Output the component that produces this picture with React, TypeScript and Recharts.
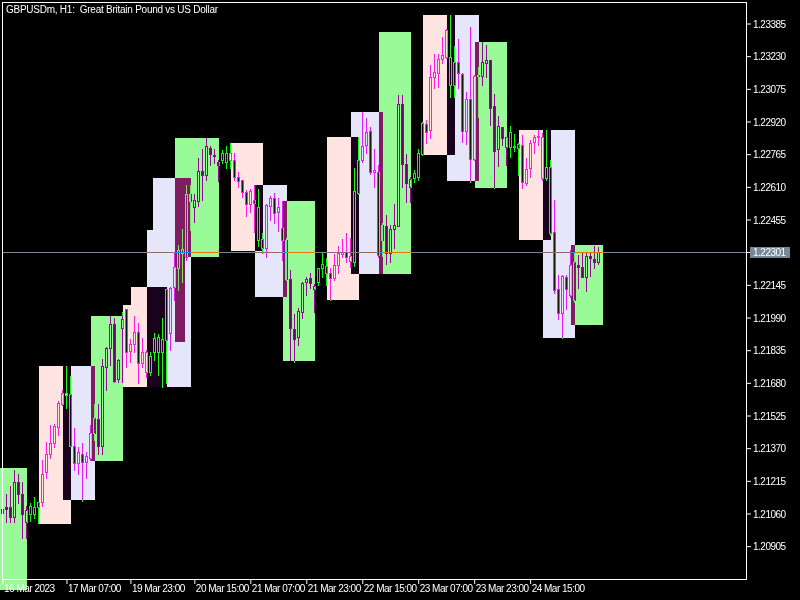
import React from "react";
import { ComposedChart, Bar, XAxis, YAxis, ReferenceArea, ReferenceLine } from "recharts";

// GBPUSDm H1 candles, bar 0 = 16 Mar 2023
const openP = [
  1.21086, 1.21091, 1.21091, 1.21048, 1.21214, 1.21157, 1.21020, 1.21062, 1.21062, 1.21091,
  1.21115, 1.21257, 1.21347, 1.21395, 1.21471, 1.21580, 1.21632, 1.21385, 1.21385, 1.21300,
  1.21347, 1.21305, 1.21328, 1.21442, 1.21509, 1.21385, 1.21756, 1.21846, 1.21960, 1.21699,
  1.21941, 1.22031, 1.21832, 1.21865, 1.21922, 1.21775, 1.21732, 1.21732, 1.21827, 1.21827,
  1.21827, 1.21884, 1.21917, 1.22136, 1.22226, 1.22297, 1.22278, 1.22578, 1.22516, 1.22544,
  1.22687, 1.22668, 1.22796, 1.22763, 1.22730, 1.22739, 1.22730, 1.22772, 1.22739, 1.22658,
  1.22644, 1.22587, 1.22530, 1.22549, 1.22359, 1.22321, 1.22321, 1.22521, 1.22559, 1.22492,
  1.22416, 1.22359, 1.22174, 1.21936, 1.21898, 1.22017, 1.22160, 1.22179, 1.22126, 1.22160,
  1.22226, 1.22202, 1.22202, 1.22179, 1.22240, 1.22293, 1.22302, 1.22259, 1.22255, 1.22582,
  1.22739, 1.22810, 1.22877, 1.22682, 1.22682, 1.22430, 1.22426, 1.22297, 1.22411, 1.22426,
  1.23005, 1.22720, 1.22611, 1.22654, 1.22658, 1.22768, 1.22910, 1.22882, 1.23133, 1.23152,
  1.23219, 1.23228, 1.23095, 1.23095, 1.23205, 1.23148, 1.22877, 1.23029, 1.22744, 1.23138,
  1.23138, 1.23200, 1.23214, 1.22996, 1.22791, 1.22896, 1.22801, 1.22801, 1.22801, 1.22796,
  1.22810, 1.22630, 1.22701, 1.22825, 1.22848, 1.22654, 1.22654, 1.22392, 1.22397, 1.22126,
  1.22012, 1.22183, 1.22098, 1.22074, 1.22240, 1.22231, 1.22183, 1.22283, 1.22269, 1.22255,
];
const highP = [
  1.21096, 1.21157, 1.21191, 1.21271, 1.21252, 1.21214, 1.21100, 1.21110, 1.21143, 1.21115,
  1.21314, 1.21404, 1.21480, 1.21485, 1.21594, 1.21647, 1.21761, 1.21713, 1.21466, 1.21376,
  1.21395, 1.21352, 1.21480, 1.21580, 1.21580, 1.21794, 1.21851, 1.21998, 1.21989, 1.21794,
  1.22017, 1.22031, 1.21889, 1.21998, 1.21965, 1.21894, 1.21837, 1.21827, 1.21917, 1.21913,
  1.21989, 1.22126, 1.22136, 1.22297, 1.22335, 1.22411, 1.22620, 1.22620, 1.22578, 1.22749,
  1.22791, 1.22844, 1.22806, 1.22791, 1.22739, 1.22787, 1.22806, 1.22820, 1.22772, 1.22682,
  1.22644, 1.22597, 1.22601, 1.22620, 1.22601, 1.22392, 1.22530, 1.22568, 1.22582, 1.22559,
  1.22544, 1.22369, 1.22217, 1.22008, 1.22036, 1.22160, 1.22183, 1.22202, 1.22150, 1.22226,
  1.22297, 1.22274, 1.22226, 1.22293, 1.22331, 1.22364, 1.22392, 1.22369, 1.22701, 1.22848,
  1.22967, 1.22939, 1.22896, 1.22791, 1.22715, 1.22440, 1.22478, 1.22430, 1.22530, 1.23048,
  1.23048, 1.22768, 1.22658, 1.22692, 1.22791, 1.22920, 1.22929, 1.23190, 1.23243, 1.23243,
  1.23323, 1.23361, 1.23428, 1.23281, 1.23314, 1.23152, 1.23062, 1.23371, 1.23143, 1.23181,
  1.23300, 1.23285, 1.23214, 1.23053, 1.22948, 1.22896, 1.22848, 1.22901, 1.22863, 1.22820,
  1.22858, 1.22749, 1.22834, 1.22858, 1.22882, 1.22867, 1.22882, 1.22739, 1.22549, 1.22193,
  1.22193, 1.22193, 1.22312, 1.22302, 1.22288, 1.22297, 1.22302, 1.22297, 1.22331, 1.22326,
];
const lowP = [
  1.20920, 1.21020, 1.21020, 1.21020, 1.21110, 1.20948, 1.20948, 1.21029, 1.21043, 1.21015,
  1.21100, 1.21233, 1.21328, 1.21376, 1.21433, 1.21575, 1.21561, 1.21381, 1.21271, 1.21248,
  1.21124, 1.21233, 1.21314, 1.21409, 1.21347, 1.21347, 1.21647, 1.21765, 1.21685, 1.21685,
  1.21685, 1.21756, 1.21780, 1.21827, 1.21680, 1.21756, 1.21708, 1.21718, 1.21789, 1.21718,
  1.21661, 1.21680, 1.21837, 1.22074, 1.22122, 1.22160, 1.22264, 1.22407, 1.22445, 1.22521,
  1.22549, 1.22644, 1.22715, 1.22725, 1.22639, 1.22725, 1.22701, 1.22701, 1.22644, 1.22611,
  1.22563, 1.22473, 1.22492, 1.22397, 1.22331, 1.22297, 1.22278, 1.22454, 1.22440, 1.22402,
  1.22264, 1.22169, 1.21789, 1.21780, 1.21860, 1.21989, 1.22098, 1.22131, 1.22017, 1.22145,
  1.22183, 1.22145, 1.22074, 1.22169, 1.22202, 1.22278, 1.22255, 1.22231, 1.22236, 1.22578,
  1.22730, 1.22772, 1.22673, 1.22611, 1.22278, 1.22283, 1.22245, 1.22255, 1.22321, 1.22426,
  1.22611, 1.22540, 1.22540, 1.22635, 1.22644, 1.22763, 1.22820, 1.22844, 1.23081, 1.23086,
  1.23200, 1.23224, 1.23038, 1.23038, 1.23081, 1.22825, 1.22815, 1.22635, 1.22739, 1.22943,
  1.23095, 1.23133, 1.22905, 1.22606, 1.22711, 1.22810, 1.22715, 1.22753, 1.22782, 1.22668,
  1.22606, 1.22620, 1.22658, 1.22772, 1.22810, 1.22644, 1.22644, 1.22383, 1.22107, 1.21984,
  1.21894, 1.22031, 1.22088, 1.22065, 1.22131, 1.22183, 1.22117, 1.22188, 1.22226, 1.22245,
];
const closeP = [
  1.21067, 1.21086, 1.21048, 1.21214, 1.21157, 1.21062, 1.21077, 1.21100, 1.21091, 1.21115,
  1.21252, 1.21347, 1.21395, 1.21476, 1.21585, 1.21632, 1.21623, 1.21628, 1.21300, 1.21352,
  1.21305, 1.21333, 1.21442, 1.21514, 1.21385, 1.21761, 1.21846, 1.21960, 1.21689, 1.21789,
  1.21984, 1.21827, 1.21865, 1.21922, 1.21775, 1.21827, 1.21827, 1.21808, 1.21894, 1.21898,
  1.21889, 1.22126, 1.22131, 1.22231, 1.22312, 1.22316, 1.22578, 1.22544, 1.22549, 1.22687,
  1.22668, 1.22806, 1.22768, 1.22758, 1.22715, 1.22772, 1.22772, 1.22739, 1.22658, 1.22639,
  1.22587, 1.22530, 1.22592, 1.22535, 1.22516, 1.22364, 1.22525, 1.22559, 1.22487, 1.22516,
  1.22359, 1.22174, 1.21941, 1.21889, 1.22022, 1.22155, 1.22174, 1.22155, 1.22141, 1.22226,
  1.22245, 1.22236, 1.22179, 1.22240, 1.22297, 1.22302, 1.22278, 1.22283, 1.22592, 1.22739,
  1.22806, 1.22872, 1.22682, 1.22692, 1.22288, 1.22359, 1.22297, 1.22411, 1.22430, 1.23005,
  1.22720, 1.22630, 1.22649, 1.22677, 1.22772, 1.22915, 1.22872, 1.23133, 1.23157, 1.23219,
  1.23238, 1.23357, 1.23228, 1.23205, 1.23152, 1.22877, 1.23029, 1.22744, 1.23138, 1.23143,
  1.23205, 1.23214, 1.22986, 1.22782, 1.22901, 1.22844, 1.22848, 1.22872, 1.22806, 1.22815,
  1.22635, 1.22696, 1.22820, 1.22848, 1.22853, 1.22848, 1.22706, 1.22706, 1.22122, 1.22012,
  1.22188, 1.22126, 1.22240, 1.22255, 1.22231, 1.22183, 1.22283, 1.22274, 1.22255, 1.22301,
];

const timeTicks = [0, 16, 32, 48, 62, 76, 90, 104, 118, 132];
const timeLabels = [
  "16 Mar 2023", "17 Mar 07:00", "19 Mar 23:00", "20 Mar 15:00", "21 Mar 07:00",
  "21 Mar 23:00", "22 Mar 15:00", "23 Mar 07:00", "23 Mar 23:00", "24 Mar 15:00",
];
const BID = 1.22301;
const priceTicks = [
  1.20905, 1.2106, 1.21215, 1.2137, 1.21525, 1.2168, 1.21835, 1.2199, 1.22145, BID,
  1.22455, 1.2261, 1.22765, 1.2292, 1.23075, 1.2323, 1.23385,
];

const GREEN = "#98FB98";
const PINK = "#FFE4E1";
const LAV = "#E6E6FA";
const LIME = "#00FF00";
const GRAY = "#778899";

// session boxes (bar index from/to, price low/high)
const boxFrom = [-3, 9, 15, 22, 30, 32, 36, 37.5, 43, 43, 57, 63, 70, 81, 87, 94, 105, 111, 118, 129, 135, 142];
const boxTo = [6, 17, 23, 30, 32, 41, 37.5, 47, 54, 45.5, 65, 71, 78, 89, 95, 102, 113, 119, 126, 137, 143, 150];
const boxLow = [
  1.207, 1.21011, 1.21125, 1.2131, 1.21662, 1.21662, 1.21662, 1.21662, 1.22279, 1.21875, 1.22307,
  1.22089, 1.21785, 1.22075, 1.22198, 1.22198, 1.22763, 1.2264, 1.22606, 1.22359, 1.21894, 1.21956,
];
const boxHigh = [
  1.21277, 1.21761, 1.21761, 1.21999, 1.22051, 1.22136, 1.22407, 1.22654, 1.22844, 1.22279, 1.2282,
  1.22621, 1.22545, 1.22849, 1.22967, 1.23347, 1.23428, 1.23428, 1.233, 1.22882, 1.22882, 1.22336,
];
const boxColor = [
  GREEN, PINK, LAV, GREEN, PINK, PINK, LAV, LAV, GREEN, GREEN, PINK,
  LAV, GREEN, PINK, LAV, GREEN, PINK, LAV, GREEN, PINK, LAV, GREEN,
];

const xor = (a: string, b: string) => {
  const n = parseInt(a.slice(1), 16) ^ parseInt(b.slice(1), 16);
  return "#" + n.toString(16).padStart(6, "0");
};

const candles = openP.map((o, i) => ({
  i,
  open: o,
  high: highP[i],
  low: lowP[i],
  close: closeP[i],
  range: [lowP[i], highP[i]],
}));

const boxes = boxFrom.map((x1, k) => ({ x1, x2: boxTo[k], y1: boxLow[k], y2: boxHigh[k], color: boxColor[k] }));

// overlapping boxes are drawn xor-ed, like the terminal does
const overlaps: typeof boxes = [];
for (let a = 0; a < boxes.length; a++) {
  for (let b = a + 1; b < boxes.length; b++) {
    const A = boxes[a], B = boxes[b];
    const x1 = Math.max(A.x1, B.x1), x2 = Math.min(A.x2, B.x2);
    const y1 = Math.max(A.y1, B.y1), y2 = Math.min(A.y2, B.y2);
    if (x2 > x1 && y2 > y1) overlaps.push({ x1, x2, y1, y2, color: xor(A.color, B.color) });
  }
}

// bid line pieces crossing boxes
const onLine = boxes.filter((b) => b.y1 <= BID && b.y2 >= BID);
const edges = Array.from(new Set(onLine.flatMap((b) => [b.x1, b.x2]))).sort((a, b) => a - b);
const lineParts: { x1: number; x2: number; color: string }[] = [];
for (let k = 0; k < edges.length - 1; k++) {
  const mid = (edges[k] + edges[k + 1]) / 2;
  const over = onLine.filter((b) => b.x1 < mid && b.x2 > mid);
  if (!over.length) continue;
  const c = over.reduce((acc, b) => xor(acc, b.color), GRAY);
  lineParts.push({ x1: edges[k], x2: edges[k + 1], color: c });
}

const font = "Liberation Sans, Arial, sans-serif";

function Candle(props: any) {
  const { x, y, width, height, payload } = props;
  const d = payload;
  const top = height < 0 ? y + height : y;
  const h = Math.abs(height);
  const span = d.high - d.low;
  const py = (v: number) => (span > 0 ? top + ((d.high - v) / span) * h : top);
  const cx = x + width / 2;
  const left = Math.round(cx - 1.5);
  const bTop = Math.round(Math.min(py(d.open), py(d.close)));
  const bBot = Math.round(Math.max(py(d.open), py(d.close)));
  const wTop = Math.round(py(d.high));
  const wBot = Math.round(py(d.low));
  const bull = d.close >= d.open;
  return (
    <g style={{ mixBlendMode: "difference" }} shapeRendering="crispEdges">
      <rect x={left + 1} y={wTop} width={1} height={Math.max(1, wBot - wTop + 1)} fill={LIME} />
      <rect x={left} y={bTop} width={3} height={bBot - bTop + 1} fill={LIME} />
      {bBot - bTop > 1 && (
        <rect x={left + 1} y={bTop + 1} width={1} height={bBot - bTop - 1} fill={bull ? "#000" : "#fff"} />
      )}
    </g>
  );
}

function BoxShape(props: any) {
  const { x, y, width, height, fill } = props;
  return <rect x={x} y={y} width={width} height={height} fill={fill} shapeRendering="crispEdges" />;
}

function PriceTick(props: any) {
  const { x, y, payload } = props;
  const v = payload.value as number;
  if (Math.abs(v - BID) < 1e-7) {
    return (
      <g>
        <rect x={x - 3} y={y - 5.5} width={40} height={11} fill={GRAY} />
        <text x={x} y={y + 3.5} fill="#fff" fontSize={10} fontFamily={font} letterSpacing={-0.5}>
          {v.toFixed(5)}
        </text>
      </g>
    );
  }
  return (
    <text x={x} y={y + 3.5} fill="#fff" fontSize={10} fontFamily={font} letterSpacing={-0.5}>
      {v.toFixed(5)}
    </text>
  );
}

function TimeTick(props: any) {
  const { x, y, payload } = props;
  const k = timeTicks.indexOf(payload.value);
  return (
    <text x={x + 1} y={y + 6} fill="#fff" fontSize={10} fontFamily={font} letterSpacing={-0.5}>
      {timeLabels[k]}
    </text>
  );
}

export default function App() {
  return (
    <div style={{ position: "fixed", left: 0, top: 0, width: 800, height: 600, background: "#000", overflow: "hidden" }}>
      <ComposedChart width={800} height={600} data={candles} margin={{ top: 3, right: 0, bottom: 0, left: 3 }}>
        <XAxis
          dataKey="i"
          type="number"
          domain={[0.125, 186.125]}
          ticks={timeTicks}
          interval={0}
          height={21}
          axisLine={false}
          tickLine={{ stroke: "#fff" }}
          tickSize={5}
          tickMargin={2}
          tick={<TimeTick />}
        />
        <YAxis
          orientation="right"
          type="number"
          domain={[1.207516, 1.234847]}
          ticks={priceTicks}
          interval={0}
          width={53}
          axisLine={false}
          tickLine={{ stroke: "#fff" }}
          tickSize={4}
          tickMargin={2}
          tick={<PriceTick />}
        />
        {boxes.map((b, k) => (
          <ReferenceArea
            key={"b" + k}
            x1={b.x1}
            x2={b.x2}
            y1={b.y1}
            y2={b.y2}
            fill={b.color}
            fillOpacity={1}
            stroke="none"
            ifOverflow="hidden"
            shape={BoxShape}
          />
        ))}
        {overlaps.map((b, k) => (
          <ReferenceArea
            key={"o" + k}
            x1={b.x1}
            x2={b.x2}
            y1={b.y1}
            y2={b.y2}
            fill={b.color}
            fillOpacity={1}
            stroke="none"
            ifOverflow="hidden"
            shape={BoxShape}
          />
        ))}
        <ReferenceLine y={BID} stroke={GRAY} strokeWidth={1} shapeRendering="crispEdges" />
        {lineParts.map((p, k) => (
          <ReferenceLine
            key={"l" + k}
            segment={[{ x: p.x1, y: BID }, { x: p.x2, y: BID }]}
            stroke={p.color}
            strokeWidth={1}
            shapeRendering="crispEdges"
          />
        ))}
        <Bar dataKey="range" barSize={3} shape={Candle} isAnimationActive={false} />
      </ComposedChart>
      <div
        style={{
          position: "absolute",
          left: 2,
          top: 2,
          width: 745,
          height: 578,
          border: "1px solid #fff",
          boxSizing: "border-box",
          pointerEvents: "none",
        }}
      />
      <div
        style={{
          position: "absolute",
          left: 6,
          top: 4,
          color: "#fff",
          fontFamily: font,
          fontSize: 10,
          lineHeight: "12px",
          letterSpacing: -0.25,
          whiteSpace: "pre",
        }}
      >
        {"GBPUSDm, H1:  Great Britain Pound vs US Dollar"}
      </div>
    </div>
  );
}
